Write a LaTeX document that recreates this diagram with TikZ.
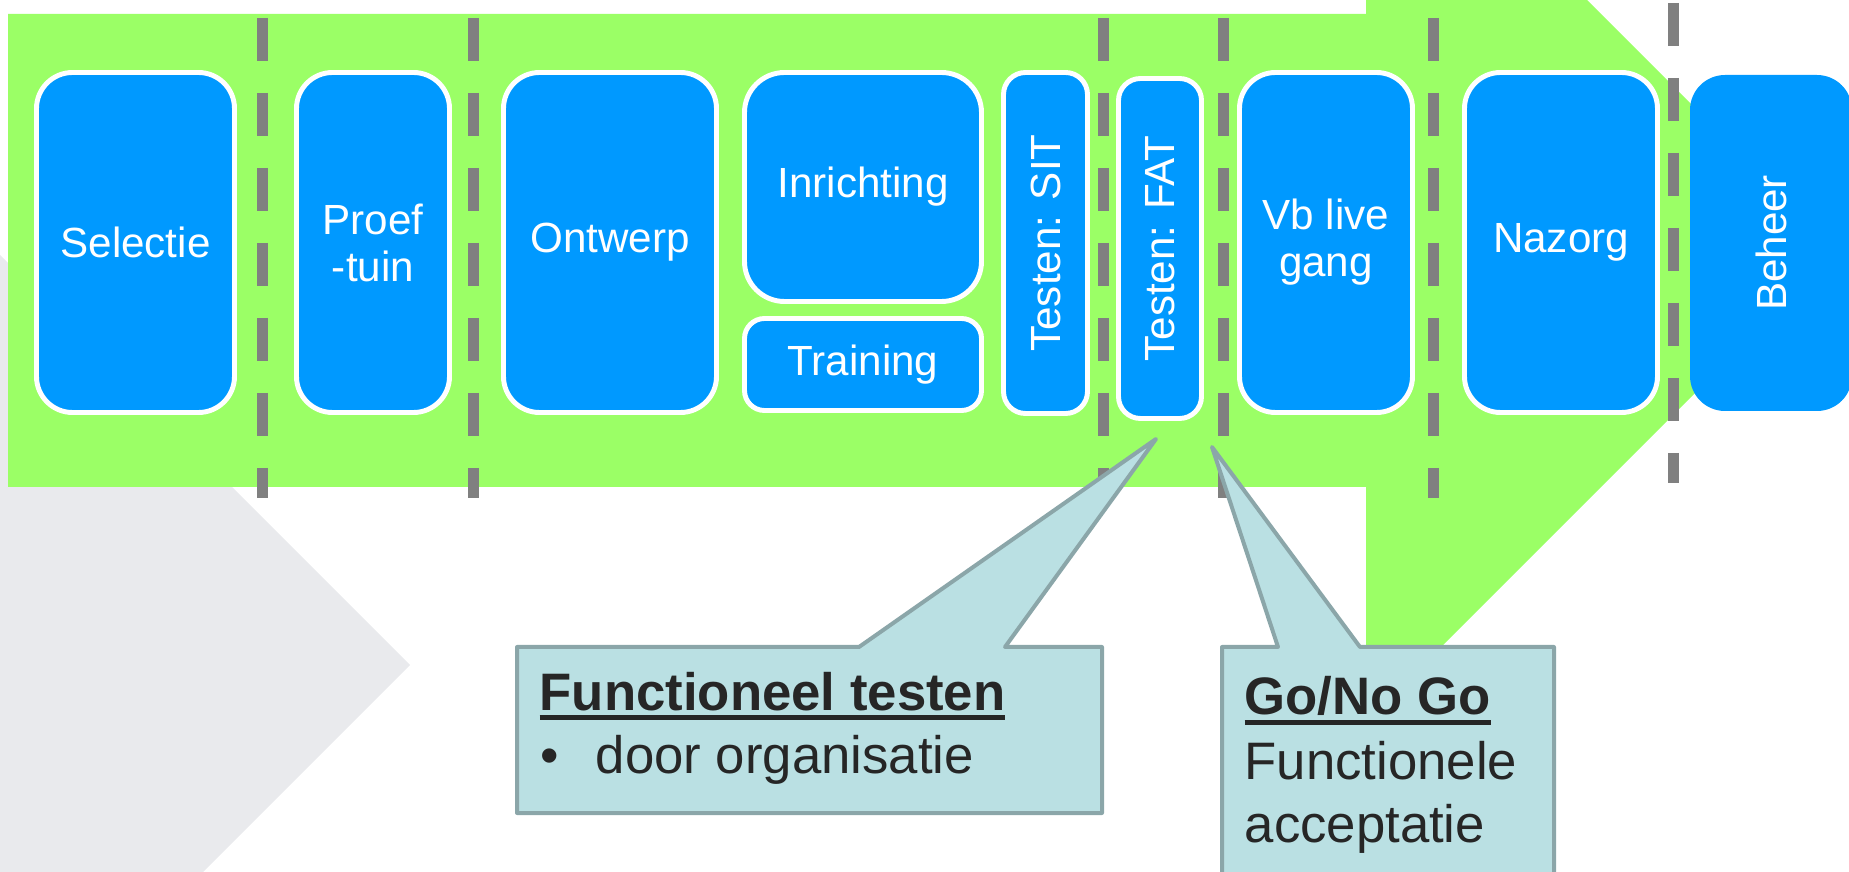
\documentclass[tikz,border=0pt]{standalone}
\usepackage{fontspec}
\setmainfont{Liberation Sans}
\definecolor{lawn}{RGB}{155, 255, 102}
\definecolor{azure}{RGB}{0, 153, 255}
\definecolor{cloud}{RGB}{233, 234, 237}
\definecolor{concrete}{RGB}{128, 128, 128}
\definecolor{powder}{RGB}{186, 224, 227}
\definecolor{slate}{RGB}{139, 166, 169}
\definecolor{charcoal}{RGB}{38, 38, 38}
\newsavebox\headbox
\newcommand\undl[1]{\sbox\headbox{#1}\rlap{\rule[-2.8pt]{\wd\headbox}{1.4pt}}\usebox\headbox}

\begin{document}
\begin{tikzpicture}[
        phase/.style={fill=azure, draw=white, line width=1.4pt, text=white, align=center, inner sep=0pt,
                      rounded corners=0.36cm, font=\fontsize{12}{13.4}\selectfont},
        divider/.style={concrete, line width=0.11cm, dash pattern=on 0.43cm off 0.32cm},
        callout/.style={draw=slate, fill=powder, line width=0.04cm, line join=round},
        notetext/.style={anchor=base west, inner sep=0pt, text=charcoal, font=\fontsize{15}{18}\selectfont}]
            \useasboundingbox (0.00, 0.00) rectangle (18.49,-8.72);
            \clip             (0.00, 0.00) rectangle (18.49,-8.72);
            % background arrows
            \fill[cloud] (-0.10,-2.45) -- ( 4.10,-6.65) -- (-0.10,-10.85) -- cycle;
            \fill[lawn]  ( 0.08,-0.14) -- (13.66,-0.14) -- (13.66, 2.21) -- (18.375,-2.505)
                      -- (13.66,-7.22) -- (13.66,-4.87) -- ( 0.08,-4.87) -- cycle;
            % phase borders
            \foreach \x in {2.62, 4.73, 11.03, 12.23, 14.33}
                \draw[divider] (\x,-0.18) -- (\x,-4.98);
            \draw[divider] (16.73,-0.03) -- (16.73,-4.83);
            % phases
            \node[phase, minimum width=1.98cm, minimum height=3.40cm] (selectie)  at ( 1.355,-2.425) {Selectie};
            \node[phase, minimum width=1.53cm, minimum height=3.40cm] (proeftuin) at ( 3.730,-2.425) {Proef\\-tuin};
            \node[phase, minimum width=2.13cm, minimum height=3.40cm] (ontwerp)   at ( 6.100,-2.425) {Ontwerp};
            \node[phase, minimum width=2.37cm, minimum height=2.29cm, rounded corners=0.40cm] (inrichting) at ( 8.630,-1.870) {Inrichting};
            \node[phase, minimum width=2.37cm, minimum height=0.92cm, rounded corners=0.20cm] (training)   at ( 8.630,-3.645) {Training};
            \node[phase, minimum width=3.41cm, minimum height=0.84cm, rounded corners=0.22cm, rotate=90] (sit) at (10.455,-2.430) {Testen: SIT};
            \node[phase, minimum width=3.40cm, minimum height=0.83cm, rounded corners=0.22cm, rotate=90] (fat) at (11.600,-2.485) {Testen: FAT};
            \node[phase, minimum width=1.73cm, minimum height=3.40cm] (golive)    at (13.260,-2.425) {Vb live\\gang};
            \node[phase, minimum width=1.93cm, minimum height=3.40cm] (nazorg)    at (15.610,-2.425) {Nazorg};
            \node[phase, draw=none, minimum width=3.36cm, minimum height=1.62cm, rounded corners=0.35cm, rotate=90] (beheer) at (17.710,-2.430) {Beheer};
            % callouts
            \filldraw[callout] ( 5.17,-6.47) -- ( 8.59,-6.47) -- (11.56,-4.39) -- (10.05,-6.47)
                            -- (11.02,-6.47) -- (11.02,-8.13) -- ( 5.17,-8.13) -- cycle;
            \filldraw[callout] (12.22,-6.47) -- (12.78,-6.47) -- (12.12,-4.47) -- (13.60,-6.47)
                            -- (15.54,-6.47) -- (15.54,-9.00) -- (12.22,-9.00) -- cycle;
            \node[notetext] (fthead) at ( 5.39,-7.10) {\undl{\textbf{Functioneel testen}}};
            \node[notetext] (ftitem) at ( 5.40,-7.73) {\makebox[0.55cm][l]{\textbullet}door organisatie};
            \node[notetext] (gohead) at (12.44,-7.15) {\undl{\textbf{Go/No Go}}};
            \node[notetext] (goline) at (12.44,-7.80) {Functionele};
            \node[notetext] (goacc)  at (12.44,-8.43) {acceptatie};
        \end{tikzpicture}
\end{document}
